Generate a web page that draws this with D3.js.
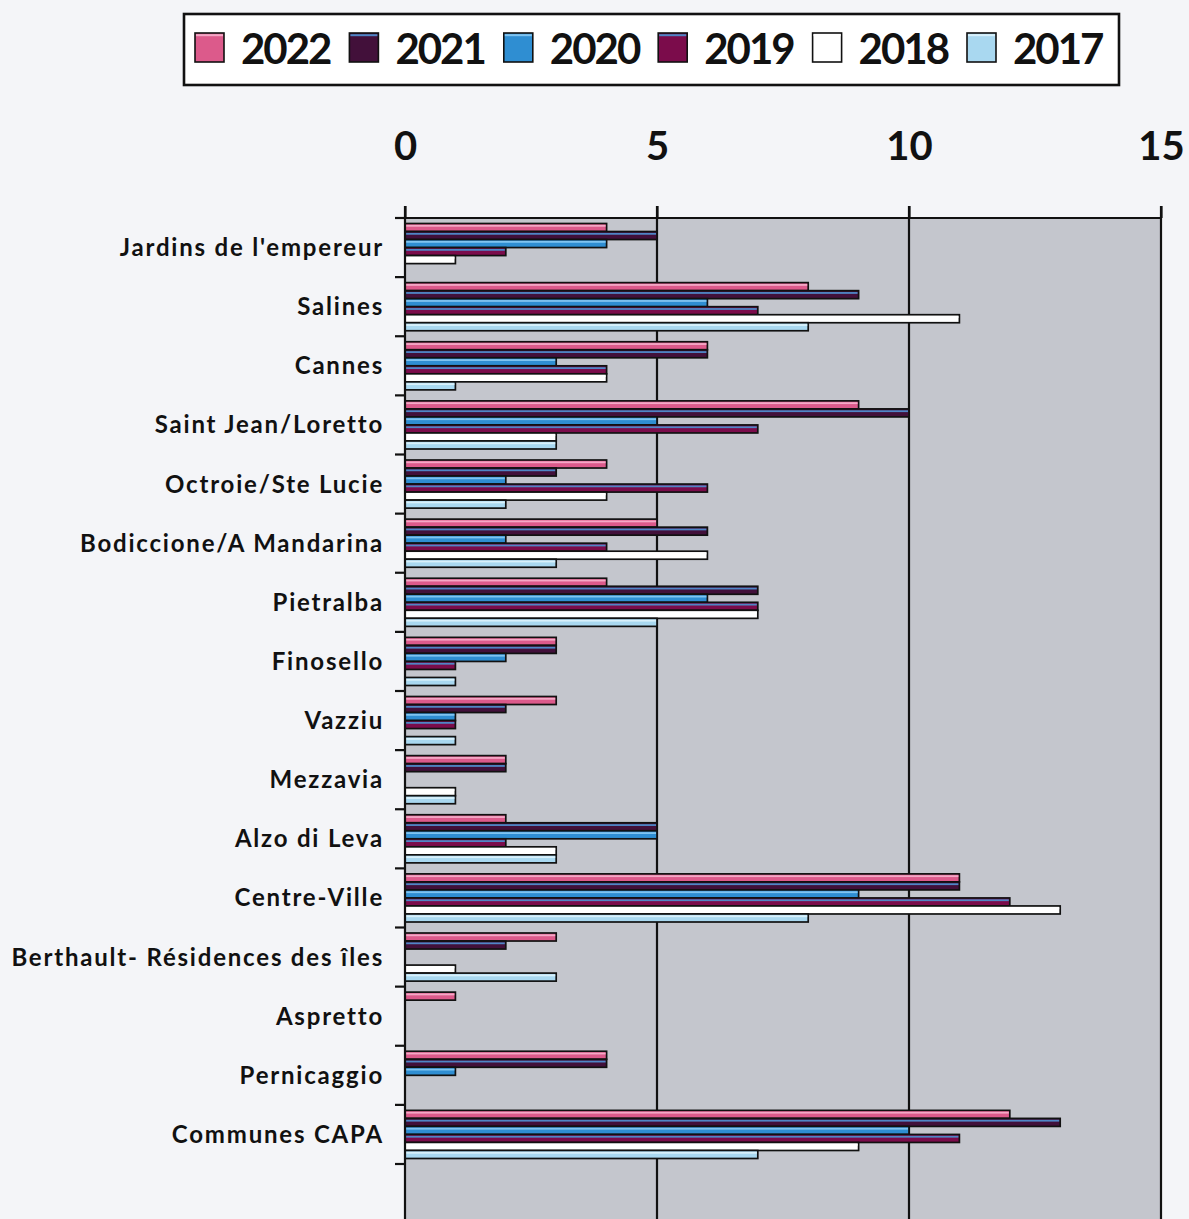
<!DOCTYPE html>
<html>
<head>
<meta charset="utf-8">
<script src="https://cdn.jsdelivr.net/npm/d3@7"></script>
<style>
  html, body { margin: 0; padding: 0; background: #f4f5f8; }
  svg { display: block; }
  text { font-family: Lato, "Open Sans", sans-serif; font-weight: 700; fill: #111; }
</style>
</head>
<body>
<svg id="chart" width="1189" height="1219"></svg>
<script>
// ---------- data ----------
const categories = [
  "Jardins de l'empereur", "Salines", "Cannes", "Saint Jean/Loretto",
  "Octroie/Ste Lucie", "Bodiccione/A Mandarina", "Pietralba", "Finosello",
  "Vazziu", "Mezzavia", "Alzo di Leva", "Centre-Ville",
  "Berthault- Résidences des îles", "Aspretto", "Pernicaggio", "Communes CAPA"
];
const years = ["2022", "2021", "2020", "2019", "2018", "2017"];
const values2022 = [4, 8, 6, 9, 4, 5, 4, 3, 3, 2, 2, 11, 3, 1, 4, 12];
const values2021 = [5, 9, 6, 10, 3, 6, 7, 3, 2, 2, 5, 11, 2, 0, 4, 13];
const values2020 = [4, 6, 3, 5, 2, 2, 6, 2, 1, 0, 5, 9, 0, 0, 1, 10];
const values2019 = [2, 7, 4, 7, 6, 4, 7, 1, 1, 0, 2, 12, 0, 0, 0, 11];
const values2018 = [1, 11, 4, 3, 4, 6, 7, 0, 0, 1, 3, 13, 1, 0, 0, 9];
const values2017 = [0, 8, 1, 3, 2, 3, 5, 1, 1, 1, 3, 8, 3, 0, 0, 7];
const xTicks = [0, 5, 10, 15];

const seriesValues = {
  "2022": values2022, "2021": values2021, "2020": values2020,
  "2019": values2019, "2018": values2018, "2017": values2017
};
const fillColors   = ["#dc5a8b", "#42103a", "#2f8ed2", "#7b0c4b", "#ffffff", "#a9d8f0"];
const stripeColors = ["#f4a8c6", "#4f86c6", "#80c4f0", "#4f86c6", "#ffffff", "#d8f0fb"];

// ---------- layout ----------
const svg = d3.select("#chart");
const pLeft = 405, pRight = 1161, pTop = 218, catBottom = 1164, pBottom = 1240;

const x = d3.scaleLinear().domain([0, 15]).range([pLeft, pRight]);
const y = d3.scaleBand().domain(categories).range([pTop, catBottom]).padding(0);
const y1 = d3.scaleBand().domain(years).range([5.5, y.bandwidth() - 5.5]).padding(0);
const fill = d3.scaleOrdinal().domain(years).range(fillColors);
const stripe = d3.scaleOrdinal().domain(years).range(stripeColors);

// plot background
svg.append("rect")
  .attr("x", pLeft).attr("y", pTop)
  .attr("width", pRight - pLeft).attr("height", pBottom - pTop)
  .attr("fill", "#c4c6cd");

// vertical gridlines (5, 10, 15)
svg.append("g").selectAll("line")
  .data(xTicks.filter(d => d > 0))
  .join("line")
  .attr("x1", d => x(d)).attr("x2", d => x(d))
  .attr("y1", pTop - 12).attr("y2", pBottom)
  .attr("stroke", "#111").attr("stroke-width", 2.2);

// bars
const groups = svg.append("g").selectAll("g")
  .data(categories)
  .join("g")
  .attr("transform", d => `translate(0,${y(d)})`);

const barData = (cat, i) => years.map(yr => ({ yr, v: seriesValues[yr][i] })).filter(d => d.v > 0);

groups.each(function(cat, i) {
  const g = d3.select(this);
  const bars = g.selectAll("g.bar").data(barData(cat, i)).join("g").attr("class", "bar");
  bars.append("rect")
    .attr("x", x(0))
    .attr("y", d => y1(d.yr))
    .attr("width", d => x(d.v) - x(0))
    .attr("height", y1.bandwidth())
    .attr("fill", d => fill(d.yr))
    .attr("stroke", "#111")
    .attr("stroke-width", 1.7);
  bars.append("rect")
    .attr("x", x(0) + 1)
    .attr("y", d => y1(d.yr) + 1.4)
    .attr("width", d => Math.max(0, x(d.v) - x(0) - 2))
    .attr("height", 1.8)
    .attr("fill", d => stripe(d.yr));
});

// top axis (labels + ticks)
const xAxis = d3.axisTop(x).tickValues(xTicks).tickSize(12).tickPadding(46);
const gx = svg.append("g").attr("transform", `translate(0,${pTop})`).call(xAxis);
gx.select(".domain").attr("stroke", "#111").attr("stroke-width", 2.2).attr("d", `M${pLeft},0H${pRight}`);
gx.selectAll(".tick line").attr("stroke", "#111").attr("stroke-width", 2.2);
gx.selectAll(".tick text")
  .style("font-family", "Lato, 'Open Sans', sans-serif")
  .style("font-weight", "700")
  .attr("font-size", 40).attr("fill", "#111");

// left axis
const yTickPositions = d3.range(categories.length + 1).map(k => pTop + k * y.step());
svg.append("line")
  .attr("x1", pLeft).attr("x2", pLeft)
  .attr("y1", pTop - 12).attr("y2", pBottom)
  .attr("stroke", "#111").attr("stroke-width", 2.2);
svg.append("g").selectAll("line")
  .data(yTickPositions)
  .join("line")
  .attr("x1", pLeft - 10).attr("x2", pLeft)
  .attr("y1", d => d).attr("y2", d => d)
  .attr("stroke", "#111").attr("stroke-width", 2.2);

// category labels
svg.append("g").selectAll("text")
  .data(categories)
  .join("text")
  .attr("x", 384)
  .attr("y", d => y(d) + y.bandwidth() / 2 + 8.5)
  .attr("text-anchor", "end")
  .attr("font-size", 24)
  .attr("letter-spacing", 1.8)
  .text(d => d);

// legend
const legend = svg.append("g");
legend.append("rect")
  .attr("x", 184).attr("y", 14).attr("width", 935).attr("height", 71)
  .attr("fill", "#ffffff").attr("stroke", "#111").attr("stroke-width", 2.6);
const legX = d3.scalePoint().domain(years).range([195, 967]);
const items = legend.selectAll("g.item").data(years).join("g").attr("class", "item")
  .attr("transform", d => `translate(${legX(d)},33)`);
items.append("rect")
  .attr("width", 29).attr("height", 29)
  .attr("fill", d => fill(d)).attr("stroke", "#111").attr("stroke-width", 1.6);
items.append("rect")
  .attr("x", 1).attr("y", 1.2).attr("width", 27).attr("height", 2)
  .attr("fill", d => stripe(d));
items.append("text")
  .attr("x", 46).attr("y", 31)
  .attr("font-size", 42)
  .attr("letter-spacing", -2)
  .text(d => d);
</script>
</body>
</html>
